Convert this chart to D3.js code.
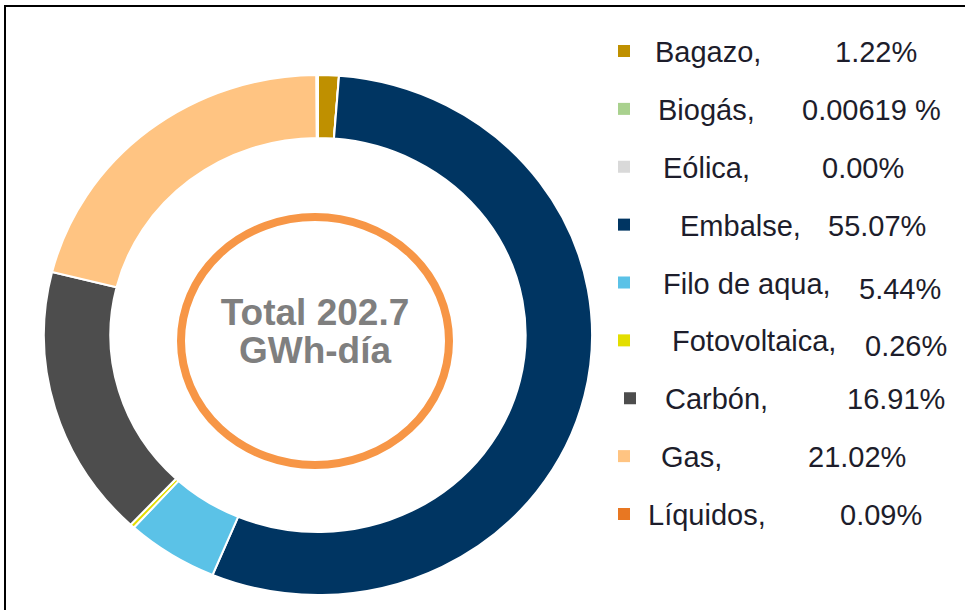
<!DOCTYPE html>
<html lang="es">
<head>
<meta charset="UTF-8">
<script src="https://d3js.org/d3.v7.min.js"></script>
<title>Generación por fuente</title>
<style>
  body { margin: 0; background: #fff; }
  text { font-family: "Liberation Sans", Arial, sans-serif; }
</style>
</head>
<body>
<script>
// data
var fuentes = ["Bagazo", "Biogás", "Eólica", "Embalse", "Filo de aqua", "Fotovoltaica", "Carbón", "Gas", "Líquidos"];
var porcentajes = [1.22, 0.00619, 0.00, 55.07, 5.44, 0.26, 16.91, 21.02, 0.09];
var etiquetas = ["1.22%", "0.00619 %", "0.00%", "55.07%", "5.44%", "0.26%", "16.91%", "21.02%", "0.09%"];
var colores = ["#BF9000", "#A9D18E", "#D9D9D9", "#003562", "#5BC2E7", "#E3DE00", "#4D4D4D", "#FFC482", "#E87722"];
var totalTxt = ["Total 202.7", "GWh-día"];

// legend text nudges (label start x, value start x), the original is hand-spaced
var labelX = [655, 658, 663, 680, 663, 672, 665, 661, 648];
var valueX = [835, 802, 822, 828, 859, 865, 847, 808, 840];
var valueDy = [0, 0, 0, 0, 5, 5, 0, 0, 0];

var width = 965, height = 610;
var cx = 318, cy = 335, rOut = 260, rIn = 197, sx = 1.054;

var svg = d3.select("body").append("svg").attr("width", width).attr("height", height);

// frame
svg.append("path").attr("d", "M5,610 V6 H965")
   .attr("fill", "none").attr("stroke", "#000").attr("stroke-width", 2);

var datos = fuentes.map(function(f, i){ return {name: f, value: porcentajes[i], color: colores[i]}; });

var pie = d3.pie().value(function(d){ return d.value; }).sort(null);
var arc = d3.arc().innerRadius(rIn).outerRadius(rOut);

var g = svg.append("g").attr("transform", "translate(" + cx + "," + cy + ") scale(" + sx + ",1)");
g.selectAll("path").data(pie(datos)).enter().append("path")
  .attr("d", arc)
  .attr("fill", function(d){ return d.data.color; })
  .attr("stroke", "#fff").attr("stroke-width", 2)
  .attr("vector-effect", "non-scaling-stroke");

// orange ring in the middle
svg.append("ellipse").attr("cx", 315).attr("cy", 341).attr("rx", 134).attr("ry", 124)
   .attr("fill", "none").attr("stroke", "#F79646").attr("stroke-width", 8);

svg.selectAll(".tot").data(totalTxt).enter().append("text")
   .attr("class", "tot")
   .attr("x", 315).attr("y", function(d, i){ return 325 + i * 38; })
   .attr("text-anchor", "middle")
   .attr("font-size", 37).attr("font-weight", "bold").attr("fill", "#7F7F7F")
   .text(function(d){ return d; });

// legend
var ly = d3.scaleLinear().domain([0, fuentes.length - 1]).range([62, 525]);

var leg = svg.selectAll(".leg").data(datos).enter().append("g").attr("class", "leg");
leg.append("rect")
   .attr("x", function(d, i){ return i === 6 ? 624 : 618; })
   .attr("y", function(d, i){ return ly(i) - 17; })
   .attr("width", 12).attr("height", 12)
   .attr("fill", function(d){ return d.color; });
leg.append("text")
   .attr("x", function(d, i){ return labelX[i]; })
   .attr("y", function(d, i){ return ly(i); })
   .attr("font-size", 29).attr("fill", "#1d1d2b")
   .text(function(d){ return d.name + ","; });
leg.append("text")
   .attr("x", function(d, i){ return valueX[i]; })
   .attr("y", function(d, i){ return ly(i) + valueDy[i]; })
   .attr("font-size", 29).attr("fill", "#1d1d2b")
   .text(function(d, i){ return etiquetas[i]; });
</script>
</body>
</html>
